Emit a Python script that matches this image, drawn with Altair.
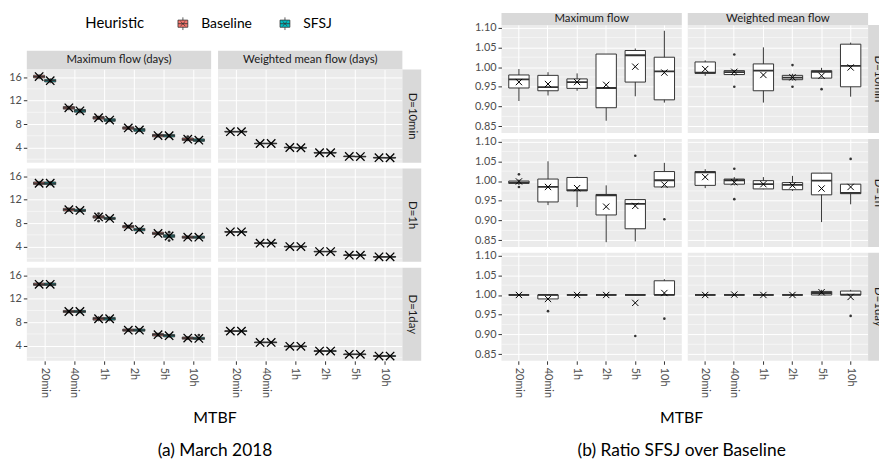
import altair as alt
import pandas as pd

# ---------------- categories / labels ----------------
MTBF = ["20min", "40min", "1h", "2h", "5h", "10h"]
HEUR = ["Baseline", "SFSJ"]
HEUR_COLORS = ["#F8766D", "#00BFC4"]
D_LEVELS = ["D=10min", "D=1h", "D=1day"]
LEFT_METRICS = ["Maximum flow (days)", "Weighted mean flow (days)"]
RIGHT_METRICS = ["Maximum flow", "Weighted mean flow"]
LEFT_Y_TICKS = [4, 8, 12, 16]
LEFT_Y_MINOR = [2, 6, 10, 14]
RIGHT_Y_TICKS = [0.85, 0.90, 0.95, 1.00, 1.05, 1.10]
RIGHT_Y_MINOR = [0.875, 0.925, 0.975, 1.025, 1.075]

# ---------------- (a) March 2018: box stats (lo, q1, median, q3, hi, mean) per MTBF ----------------
max_10min_base = [(15.65, 15.88, 16.08, 16.32, 16.50, 16.10), (10.35, 10.55, 10.75, 10.98, 11.15, 10.76),
                  (8.70, 8.85, 9.06, 9.28, 9.42, 9.07), (6.98, 7.12, 7.33, 7.52, 7.68, 7.33),
                  (5.68, 5.82, 6.02, 6.22, 6.38, 6.03), (5.05, 5.20, 5.40, 5.62, 5.78, 5.42)]
max_10min_sfsj = [(14.95, 15.18, 15.40, 15.62, 15.82, 15.40), (9.80, 10.02, 10.25, 10.48, 10.70, 10.25),
                  (8.32, 8.46, 8.68, 8.90, 9.04, 8.68), (6.62, 6.76, 7.00, 7.22, 7.36, 7.00),
                  (5.66, 5.80, 6.00, 6.20, 6.34, 6.00), (4.90, 5.04, 5.25, 5.46, 5.60, 5.25)]
max_1h_base = [(14.40, 14.58, 14.80, 15.02, 15.20, 14.80), (9.90, 10.08, 10.30, 10.52, 10.70, 10.30),
               (8.70, 8.86, 9.05, 9.26, 9.42, 9.06), (7.05, 7.20, 7.40, 7.60, 7.75, 7.40),
               (5.90, 6.05, 6.25, 6.45, 6.60, 6.25), (5.28, 5.42, 5.60, 5.78, 5.92, 5.60)]
max_1h_sfsj = [(14.40, 14.58, 14.80, 15.02, 15.20, 14.80), (9.84, 9.98, 10.17, 10.36, 10.50, 10.17),
               (8.48, 8.62, 8.80, 8.98, 9.12, 8.80), (6.55, 6.70, 6.90, 7.10, 7.25, 6.90),
               (5.38, 5.58, 5.80, 6.02, 6.22, 5.80), (5.28, 5.42, 5.60, 5.78, 5.92, 5.60)]
max_1day_base = [(14.12, 14.27, 14.47, 14.67, 14.82, 14.47), (9.50, 9.65, 9.83, 10.01, 10.16, 9.83),
                 (8.16, 8.36, 8.59, 8.82, 9.02, 8.59), (6.32, 6.47, 6.65, 6.83, 6.98, 6.65),
                 (5.50, 5.66, 5.87, 6.08, 6.24, 5.87), (4.96, 5.11, 5.29, 5.47, 5.62, 5.29)]
max_1day_sfsj = [(14.12, 14.27, 14.47, 14.67, 14.82, 14.47), (9.50, 9.65, 9.83, 10.01, 10.16, 9.83),
                 (8.16, 8.36, 8.59, 8.82, 9.02, 8.59), (6.32, 6.47, 6.65, 6.83, 6.98, 6.65),
                 (5.36, 5.50, 5.70, 5.90, 6.04, 5.70), (4.92, 5.06, 5.24, 5.42, 5.56, 5.24)]
wmean_10min_base = [(6.55, 6.64, 6.70, 6.76, 6.85, 6.70), (4.54, 4.62, 4.68, 4.74, 4.82, 4.68),
                    (3.86, 3.94, 4.00, 4.06, 4.14, 4.00), (2.97, 3.05, 3.10, 3.15, 3.23, 3.10),
                    (2.36, 2.43, 2.48, 2.53, 2.60, 2.48), (2.14, 2.21, 2.26, 2.31, 2.38, 2.26)]
wmean_10min_sfsj = [(6.55, 6.64, 6.70, 6.76, 6.85, 6.70), (4.54, 4.62, 4.68, 4.74, 4.82, 4.68),
                    (3.81, 3.89, 3.95, 4.01, 4.09, 3.95), (2.97, 3.05, 3.10, 3.15, 3.23, 3.10),
                    (2.33, 2.40, 2.45, 2.50, 2.57, 2.45), (2.13, 2.20, 2.25, 2.30, 2.37, 2.25)]
wmean_1h_base = [(6.37, 6.45, 6.51, 6.57, 6.65, 6.51), (4.44, 4.52, 4.58, 4.64, 4.72, 4.58),
                 (3.86, 3.94, 4.00, 4.06, 4.14, 4.00), (3.02, 3.10, 3.15, 3.20, 3.28, 3.15),
                 (2.41, 2.48, 2.53, 2.58, 2.65, 2.53), (2.13, 2.20, 2.25, 2.30, 2.37, 2.25)]
wmean_1h_sfsj = [(6.37, 6.45, 6.51, 6.57, 6.65, 6.51), (4.44, 4.52, 4.58, 4.64, 4.72, 4.58),
                 (3.86, 3.94, 4.00, 4.06, 4.14, 4.00), (3.02, 3.10, 3.15, 3.20, 3.28, 3.15),
                 (2.41, 2.48, 2.53, 2.58, 2.65, 2.53), (2.13, 2.20, 2.25, 2.30, 2.37, 2.25)]
wmean_1day_base = [(6.34, 6.42, 6.48, 6.54, 6.62, 6.48), (4.42, 4.50, 4.56, 4.62, 4.70, 4.56),
                   (3.74, 3.82, 3.88, 3.94, 4.02, 3.88), (2.95, 3.03, 3.08, 3.13, 3.21, 3.08),
                   (2.40, 2.47, 2.52, 2.57, 2.64, 2.52), (2.11, 2.18, 2.23, 2.28, 2.35, 2.23)]
wmean_1day_sfsj = [(6.34, 6.42, 6.48, 6.54, 6.62, 6.48), (4.42, 4.50, 4.56, 4.62, 4.70, 4.56),
                   (3.74, 3.82, 3.88, 3.94, 4.02, 3.88), (2.95, 3.03, 3.08, 3.13, 3.21, 3.08),
                   (2.40, 2.47, 2.52, 2.57, 2.64, 2.52), (2.11, 2.18, 2.23, 2.28, 2.35, 2.23)]
# outliers: (metric index, D index, heuristic, MTBF, value)
left_outliers = [(0, 0, "Baseline", "10h", 5.86), (0, 1, "Baseline", "1h", 9.63), (0, 1, "Baseline", "1h", 8.33),
                 (0, 1, "SFSJ", "5h", 6.46), (0, 1, "SFSJ", "5h", 5.03), (0, 2, "SFSJ", "10h", 5.80)]

# ---------------- (b) Ratio SFSJ over Baseline ----------------
ratio_max_10min = [(0.914, 0.947, 0.969, 0.980, 0.995, 0.962), (0.928, 0.940, 0.949, 0.979, 0.987, 0.957),
                   (0.940, 0.946, 0.962, 0.970, 0.984, 0.962), (0.864, 0.897, 0.947, 1.033, 1.033, 0.955),
                   (0.926, 0.962, 1.030, 1.042, 1.047, 1.001), (0.910, 0.917, 0.989, 1.025, 1.092, 0.986)]
ratio_wmean_10min = [(0.978, 0.984, 0.986, 1.013, 1.017, 0.995), (0.978, 0.981, 0.987, 0.991, 0.993, 0.988),
                     (0.910, 0.940, 0.991, 1.008, 1.050, 0.980), (0.966, 0.968, 0.973, 0.979, 0.983, 0.974),
                     (0.971, 0.972, 0.988, 0.991, 0.998, 0.978), (0.925, 0.950, 1.003, 1.058, 1.062, 0.999)]
ratio_max_1h = [(0.990, 0.994, 0.996, 1.000, 1.004, 0.999), (0.939, 0.947, 0.985, 1.005, 1.050, 0.985),
                (0.934, 0.975, 0.977, 1.009, 1.011, 0.982), (0.845, 0.914, 0.964, 0.966, 0.989, 0.935),
                (0.847, 0.879, 0.942, 0.953, 0.953, 0.937), (0.985, 0.985, 1.002, 1.024, 1.046, 0.991)]
ratio_wmean_1h = [(0.982, 0.989, 1.022, 1.024, 1.030, 1.010), (0.989, 0.992, 1.002, 1.005, 1.010, 0.997),
                  (0.979, 0.980, 0.992, 1.001, 1.010, 0.992), (0.975, 0.978, 0.990, 0.996, 1.013, 0.989),
                  (0.896, 0.965, 1.001, 1.020, 1.020, 0.981), (0.941, 0.968, 0.970, 0.992, 0.992, 0.985)]
ratio_max_1day = [(1.000, 1.000, 1.000, 1.000, 1.000, 1.000), (0.990, 0.990, 1.000, 1.000, 1.000, 0.990),
                  (1.000, 1.000, 1.000, 1.000, 1.000, 1.000), (1.000, 1.000, 1.000, 1.000, 1.000, 1.000),
                  (1.000, 1.000, 1.000, 1.000, 1.000, 0.980), (1.000, 1.000, 1.000, 1.036, 1.040, 1.005)]
ratio_wmean_1day = [(1.000, 1.000, 1.000, 1.000, 1.000, 1.000), (1.000, 1.000, 1.000, 1.000, 1.000, 1.001),
                    (1.000, 1.000, 1.000, 1.000, 1.000, 1.000), (1.000, 1.000, 1.000, 1.000, 1.000, 1.000),
                    (1.000, 1.000, 1.005, 1.009, 1.013, 1.007), (1.000, 1.000, 1.001, 1.010, 1.013, 0.995)]
# outliers: (metric index, D index, MTBF, value)
ratio_outliers = [(1, 0, "40min", 1.032), (1, 0, "40min", 0.950), (1, 0, "2h", 1.005), (1, 0, "2h", 0.950),
                  (1, 0, "5h", 0.944),
                  (0, 1, "20min", 1.017), (0, 1, "20min", 0.985), (0, 1, "5h", 1.064), (0, 1, "10h", 0.903),
                  (1, 1, "40min", 1.031), (1, 1, "40min", 0.954), (1, 1, "10h", 1.056),
                  (0, 2, "40min", 0.959), (0, 2, "5h", 0.896), (0, 2, "10h", 0.940),
                  (1, 2, "10h", 0.947)]

LEFT_STATS = {
    (0, 0): {"Baseline": max_10min_base, "SFSJ": max_10min_sfsj},
    (0, 1): {"Baseline": max_1h_base, "SFSJ": max_1h_sfsj},
    (0, 2): {"Baseline": max_1day_base, "SFSJ": max_1day_sfsj},
    (1, 0): {"Baseline": wmean_10min_base, "SFSJ": wmean_10min_sfsj},
    (1, 1): {"Baseline": wmean_1h_base, "SFSJ": wmean_1h_sfsj},
    (1, 2): {"Baseline": wmean_1day_base, "SFSJ": wmean_1day_sfsj},
}
RIGHT_STATS = {
    (0, 0): ratio_max_10min, (0, 1): ratio_max_1h, (0, 2): ratio_max_1day,
    (1, 0): ratio_wmean_10min, (1, 1): ratio_wmean_1h, (1, 2): ratio_wmean_1day,
}

# ---------------- styling / layout ----------------
FONT = "Lato"
PANEL_BG = "#EBEBEB"
STRIP_BG = "#D9D9D9"
DARK = "#333333"
XSHAPE = "M-1,-1L1,1M-1,1L1,-1"
KEY_SHAPE = ("M-0.62,-0.45H0.62V0.45H-0.62Z M0,-0.45V-0.8 M0,0.45V0.8 M-0.62,0H0.62 "
             "M-0.3,-0.3L0.3,0.3 M-0.3,0.3L0.3,-0.3")

L_COL_W, L_GAP, L_STRIP_W, L_STRIP_H, L_ROW_H, L_ROW_GAP, L_TOP = 186, 7, 19, 19, 94, 6, 38
R_COL_W, R_GAP, R_STRIP_W, R_STRIP_H, R_ROW_H, R_ROW_GAP = 182, 6, 11, 12, 109, 6

LEGEND = alt.Legend(orient="none", legendX=59, legendY=2, direction="horizontal", title="Heuristic",
                    titleOrient="left", titleFontSize=15, titleFontWeight="normal", titleColor="black",
                    titlePadding=30, labelFontSize=14, labelColor="black", labelOffset=10, columnPadding=24,
                    symbolType=KEY_SHAPE, symbolSize=256, symbolStrokeColor=DARK, symbolStrokeWidth=0.8,
                    symbolOpacity=1)


def blank(w, h, fill=None):
    c = alt.Chart(pd.DataFrame({"z": [0]})).mark_point(opacity=0).encode(x=alt.value(0), y=alt.value(0))
    if fill:
        return c.properties(width=w, height=h, view=alt.ViewBackground(fill=fill, stroke=None))
    return c.properties(width=w, height=h)


def strip(label, w, h, vertical=False, tx=None, ty=None, clip=False):
    c = alt.Chart(pd.DataFrame({"label": [label]})).mark_text(
        font=FONT, fontSize=11.5, color="#1A1A1A", angle=90 if vertical else 0,
        align="center", baseline="middle", clip=clip
    ).encode(text="label:N",
             x=alt.value(w / 2 if tx is None else tx),
             y=alt.value(h / 2 if ty is None else ty))
    return c.properties(width=w, height=h, view=alt.ViewBackground(fill=STRIP_BG, stroke=None))


def x_axis(bottom):
    if bottom:
        return alt.Axis(title=None, grid=True, domain=False, labelAngle=90, labelPadding=3, bandPosition=0.5)
    return alt.Axis(title=None, grid=True, domain=False, labels=False, ticks=False, bandPosition=0.5)


def y_axis(first, values, fmt=None):
    kw = dict(values=values, title=None, grid=True, domain=False)
    if fmt:
        kw["format"] = fmt
    if not first:
        kw.update(labels=False, ticks=False)
    return alt.Axis(**kw)


def left_cell(mi, di, bottom, first):
    rows = []
    for h in HEUR:
        for m, s in zip(MTBF, LEFT_STATS[(mi, di)][h]):
            rows.append(dict(heur=h, mtbf=m, lo=s[0], q1=s[1], med=s[2], q3=s[3], hi=s[4], mean=s[5]))
    df = pd.DataFrame(rows)
    ysc = alt.Scale(domain=[1.41, 17.3], nice=False, zero=False)
    yax = y_axis(first, LEFT_Y_TICKS)
    X = alt.X("mtbf:N", scale=alt.Scale(domain=MTBF, paddingInner=0, paddingOuter=0.1), axis=x_axis(bottom))
    XO = alt.XOffset("heur:N", scale=alt.Scale(domain=HEUR, paddingInner=0, paddingOuter=0.34))
    base = alt.Chart(df)
    layers = [
        alt.Chart(pd.DataFrame({"v": LEFT_Y_MINOR})).mark_rule(color="white", strokeWidth=0.5).encode(
            y=alt.Y("v:Q", scale=ysc, axis=yax)),
        base.mark_rule(color=DARK, strokeWidth=1).encode(
            x=X, xOffset=XO, y=alt.Y("lo:Q", scale=ysc, axis=yax), y2="hi:Q"),
        base.mark_bar(stroke=DARK, strokeWidth=0.8, opacity=1).encode(
            x=X, xOffset=XO, y=alt.Y("q1:Q", scale=ysc, axis=yax), y2="q3:Q",
            color=alt.Color("heur:N", scale=alt.Scale(domain=HEUR, range=HEUR_COLORS), legend=LEGEND)),
        base.mark_bar(fillOpacity=0, stroke=DARK, strokeWidth=1).encode(
            x=X, xOffset=XO, y=alt.Y("med:Q", scale=ysc, axis=yax), y2="med:Q"),
        base.mark_point(shape=XSHAPE, size=72, filled=False, color="black", strokeWidth=1.3, opacity=1).encode(
            x=X, xOffset=XO, y=alt.Y("mean:Q", scale=ysc, axis=yax)),
    ]
    outs = [dict(heur=o[2], mtbf=o[3], v=o[4]) for o in left_outliers if o[0] == mi and o[1] == di]
    if outs:
        layers.append(alt.Chart(pd.DataFrame(outs)).mark_circle(size=8, color=DARK, opacity=1).encode(
            x=X, xOffset=XO, y=alt.Y("v:Q", scale=ysc, axis=yax)))
    return alt.layer(*layers).properties(width=L_COL_W, height=L_ROW_H,
                                         view=alt.ViewBackground(fill=PANEL_BG, stroke=None))


def right_cell(mi, di, bottom, first):
    rows = [dict(mtbf=m, lo=s[0], q1=s[1], med=s[2], q3=s[3], hi=s[4], mean=s[5])
            for m, s in zip(MTBF, RIGHT_STATS[(mi, di)])]
    df = pd.DataFrame(rows)
    ysc = alt.Scale(domain=[0.8331, 1.1068], nice=False, zero=False)
    yax = y_axis(first, RIGHT_Y_TICKS, ".2f")
    X = alt.X("mtbf:N", scale=alt.Scale(domain=MTBF, paddingInner=0.3, paddingOuter=0.25), axis=x_axis(bottom))
    base = alt.Chart(df)
    layers = [
        alt.Chart(pd.DataFrame({"v": RIGHT_Y_MINOR})).mark_rule(color="white", strokeWidth=0.5).encode(
            y=alt.Y("v:Q", scale=ysc, axis=yax)),
        base.mark_rule(color=DARK, strokeWidth=1).encode(
            x=X, y=alt.Y("lo:Q", scale=ysc, axis=yax), y2="hi:Q"),
        base.mark_bar(fill="white", stroke=DARK, strokeWidth=1, opacity=1).encode(
            x=X, y=alt.Y("q1:Q", scale=ysc, axis=yax), y2="q3:Q"),
        base.mark_bar(fillOpacity=0, stroke=DARK, strokeWidth=1.8).encode(
            x=X, y=alt.Y("med:Q", scale=ysc, axis=yax), y2="med:Q"),
        base.mark_point(shape=XSHAPE, size=40, filled=False, color="black", strokeWidth=1, opacity=1).encode(
            x=X, y=alt.Y("mean:Q", scale=ysc, axis=yax)),
    ]
    outs = [dict(mtbf=o[2], v=o[3]) for o in ratio_outliers if o[0] == mi and o[1] == di]
    if outs:
        layers.append(alt.Chart(pd.DataFrame(outs)).mark_circle(size=7, color=DARK, opacity=1).encode(
            x=X, y=alt.Y("v:Q", scale=ysc, axis=yax)))
    return alt.layer(*layers).properties(width=R_COL_W, height=R_ROW_H,
                                         view=alt.ViewBackground(fill=PANEL_BG, stroke=None))


def title(text, sub, dx):
    return alt.TitleParams(text=text, subtitle=sub, orient="bottom", anchor="middle", font=FONT,
                           fontSize=16, fontWeight="normal", color="black", subtitleFont=FONT,
                           subtitleFontSize=17.5, subtitleColor="black", subtitlePadding=16, offset=13, dx=dx)


# ---------------- left panel grid ----------------
left_cells = [blank(L_COL_W, L_TOP, "white"), blank(L_GAP, L_TOP, "white"),
              blank(L_COL_W, L_TOP, "white"), blank(L_STRIP_W, L_TOP, "white"),
              strip(LEFT_METRICS[0], L_COL_W, L_STRIP_H), blank(L_GAP, L_STRIP_H),
              strip(LEFT_METRICS[1], L_COL_W, L_STRIP_H), blank(L_STRIP_W, L_STRIP_H)]
for di, d in enumerate(D_LEVELS):
    bottom = di == len(D_LEVELS) - 1
    left_cells += [left_cell(0, di, bottom, True), blank(L_GAP, L_ROW_H),
                   left_cell(1, di, bottom, False), strip(d, L_STRIP_W, L_ROW_H, vertical=True)]
    if not bottom:
        left_cells += [blank(L_COL_W, L_ROW_GAP), blank(L_GAP, L_ROW_GAP),
                       blank(L_COL_W, L_ROW_GAP), blank(L_STRIP_W, L_ROW_GAP)]
left_panel = alt.concat(*left_cells, columns=4, spacing=0, bounds="flush",
                        title=title("MTBF", "(a) March 2018", 0))

# ---------------- right panel grid ----------------
right_cells = [strip(RIGHT_METRICS[0], R_COL_W, R_STRIP_H, ty=6, clip=True), blank(R_GAP, R_STRIP_H),
               strip(RIGHT_METRICS[1], R_COL_W, R_STRIP_H, ty=6, clip=True), blank(R_STRIP_W, R_STRIP_H)]
for di, d in enumerate(D_LEVELS):
    bottom = di == len(D_LEVELS) - 1
    right_cells += [right_cell(0, di, bottom, True), blank(R_GAP, R_ROW_H),
                    right_cell(1, di, bottom, False),
                    strip(d, R_STRIP_W, R_ROW_H, vertical=True, tx=9.5, clip=True)]
    if not bottom:
        right_cells += [blank(R_COL_W, R_ROW_GAP), blank(R_GAP, R_ROW_GAP),
                        blank(R_COL_W, R_ROW_GAP), blank(R_STRIP_W, R_ROW_GAP)]
right_panel = alt.concat(*right_cells, columns=4, spacing=0, bounds="flush",
                         title=title("MTBF", "(b) Ratio SFSJ over Baseline", 5))

chart = alt.hconcat(left_panel, right_panel, spacing=53).properties(
    padding={"left": 0, "top": 0, "right": 0, "bottom": 0}
).configure(font=FONT).configure_view(stroke=None).configure_axis(
    labelColor="#4D4D4D", labelFontSize=11, labelFont=FONT, tickColor=DARK, tickSize=3.5, tickWidth=1,
    gridColor="#FFFFFF", gridWidth=1, domain=False, labelPadding=2
)

chart.save("out.html", embed_options={"renderer": "svg", "actions": False})
